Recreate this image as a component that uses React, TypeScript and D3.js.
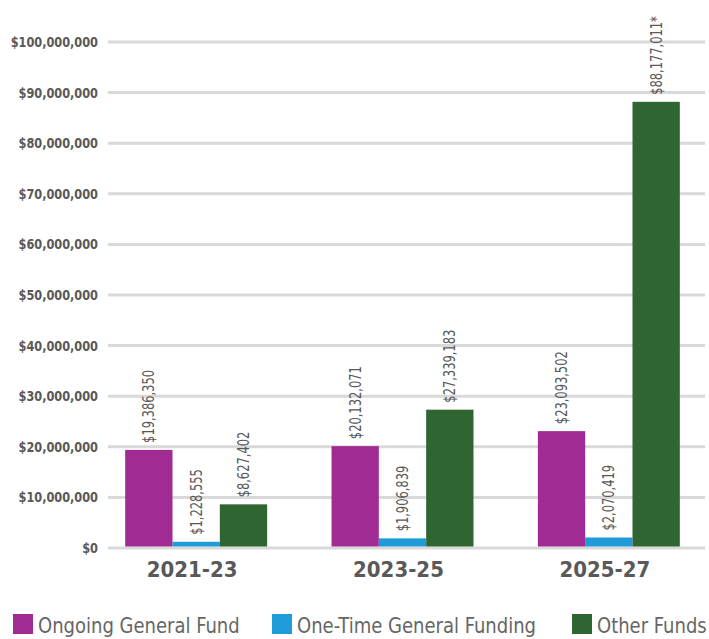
import React from "react";
import * as d3 from "d3";

const categories = ["2021-23", "2023-25", "2025-27"];
const seriesNames = ["Ongoing General Fund", "One-Time General Funding", "Other Funds"];
const ongoingGeneralFund = [19386350, 20132071, 23093502];
const oneTimeGeneralFunding = [1228555, 1906839, 2070419];
const otherFunds = [8627402, 27339183, 88177011];
const labelSuffix = ["", "", "*"];
const yTicks = [0, 10000000, 20000000, 30000000, 40000000, 50000000, 60000000, 70000000, 80000000, 90000000, 100000000];
const colors = ["#A02B93", "#1F9BD7", "#2F6531"];

const W = 709;
const H = 639;
const condFont = "'DejaVu Sans Condensed', 'DejaVu Sans', sans-serif";

export default function App() {
  const series = [ongoingGeneralFund, oneTimeGeneralFunding, otherFunds];
  const y = d3.scaleLinear().domain([0, 100000000]).range([548, 42]);
  const x0 = d3.scaleBand().domain(categories).range([93, 712]).paddingInner(0.312).paddingOuter(0.156);
  const x1 = d3.scaleBand().domain(seriesNames).range([0, x0.bandwidth()]).padding(0);
  const fmt = d3.format("$,.0f");
  const gridX0 = 108;
  const gridX1 = 705;
  const legendX = [13, 272, 572];

  return (
    <svg width={W} height={H} style={{ position: "absolute", left: 0, top: 0, background: "#fff" }}>
      {yTicks.map((t) => (
        <g key={t}>
          <line x1={gridX0} x2={gridX1} y1={y(t)} y2={y(t)} stroke="#D9D9D9" strokeWidth={3} />
          <text
            transform={`translate(98,${y(t)}) scale(0.9,1)`}
            dy="0.36em"
            textAnchor="end"
            fontFamily={condFont}
            fontWeight="bold"
            fontSize={14}
            fill="#595959"
          >
            {fmt(t)}
          </text>
        </g>
      ))}
      {categories.map((c, ci) => (
        <g key={c} transform={`translate(${x0(c)},0)`}>
          {seriesNames.map((s, si) => {
            const v = series[si][ci];
            const bx = x1(s)!;
            const bw = x1.bandwidth();
            const top = y(v);
            const label = fmt(v) + (si === 2 ? labelSuffix[ci] : "");
            return (
              <g key={s}>
                <rect x={bx} y={top} width={bw} height={y(0) - top - 1.5} fill={colors[si]} />
                <text
                  transform={`translate(${bx + bw / 2},${top - 7}) rotate(-90) scale(0.85,1)`}
                  dy="0.36em"
                  textAnchor="start"
                  fontFamily={condFont}
                  fontSize={15}
                  fill="#595959"
                >
                  {label}
                </text>
              </g>
            );
          })}
          <text
            x={x0.bandwidth() / 2 - 4}
            y={577}
            textAnchor="middle"
            fontFamily={condFont}
            fontWeight="bold"
            fontSize={22}
            fill="#595959"
          >
            {c}
          </text>
        </g>
      ))}
      {seriesNames.map((s, i) => (
        <g key={s} transform={`translate(${legendX[i]},614)`}>
          <rect x={0} y={0} width={20} height={20} fill={colors[i]} />
          <text transform="translate(25,19) scale(0.91,1)" fontFamily={condFont} fontSize={22} fill="#666666">
            {s}
          </text>
        </g>
      ))}
    </svg>
  );
}
